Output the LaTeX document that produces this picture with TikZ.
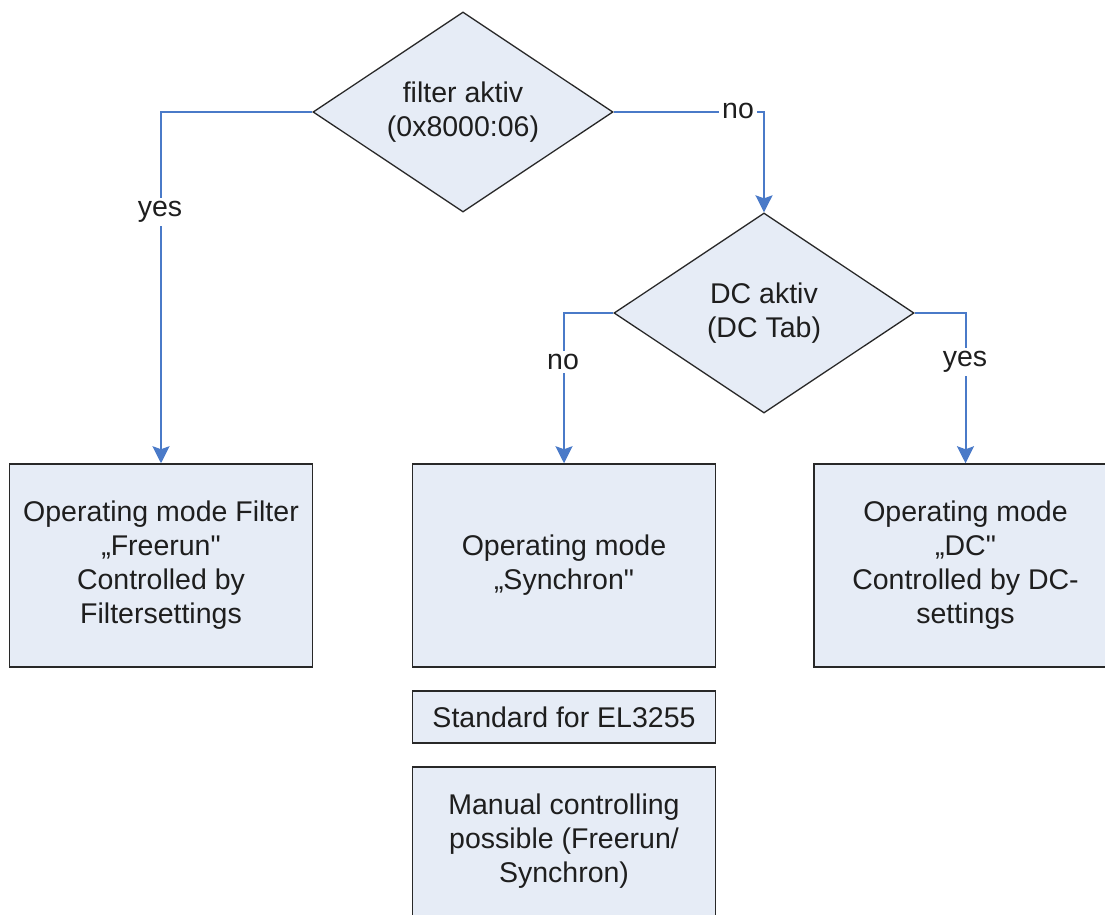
\documentclass[tikz,border=0pt]{standalone}
\usepackage{fontspec}
\setmainfont{Liberation Sans}
\usetikzlibrary{shapes.geometric,arrows.meta}
\definecolor{boxfill}{RGB}{230,236,246}
\definecolor{connblue}{RGB}{74,122,200}
\definecolor{edge}{RGB}{40,40,40}
\definecolor{txt}{RGB}{30,30,30}
\tikzset{
  every node/.style={font=\fontsize{28.5}{34}\selectfont, text=txt},
  decision/.style={diamond, draw=edge, line width=1.3pt, fill=boxfill, aspect=1.5,
    minimum width=300pt, minimum height=200pt, inner sep=0pt, align=center},
  modebox/.style={rectangle, draw=edge, line width=1.5pt, fill=boxfill,
    minimum width=303pt, minimum height=203pt, inner sep=0pt, align=center},
  notebox/.style={rectangle, draw=edge, line width=1.5pt, fill=boxfill,
    minimum width=303pt, inner sep=0pt, align=center},
  conn/.style={draw=connblue, line width=2pt, -{Stealth[length=17pt,width=17pt,inset=3pt]}},
  lbl/.style={fill=white, inner sep=3pt}
}
\begin{document}
\begin{tikzpicture}[x=1pt,y=-1pt]
\useasboundingbox (0,0) rectangle (1105,915);
\clip (0,0) rectangle (1105,915);
\node[decision] (d1) at (463,112) {filter aktiv\\(0x8000:06)};
\node[decision] (d2) at (764,313) {DC aktiv\\(DC Tab)};
\node[modebox] (b1) at (161,565.5) {Operating mode Filter\\„Freerun\textquotedbl\\Controlled by\\Filtersettings};
\node[modebox] (b2) at (564,565.5) {Operating mode\\„Synchron\textquotedbl};
\node[modebox] (b3) at (965.5,565.5) {Operating mode\\„DC\textquotedbl\\Controlled by DC-\\settings};
\node[notebox, minimum height=52pt] (s) at (564,717) {Standard for EL3255};
\node[notebox, minimum height=160pt] (m) at (564,847) {};
\node[align=center] (mt) at (564,841) {Manual controlling\\possible (Freerun/\\Synchron)};
\draw[conn] (d1.west) -| (b1.north);
\draw[conn] (d1.east) -| (d2.north);
\draw[conn] (d2.west) -| (b2.north);
\draw[conn] (d2.east) -| (b3.north);
\node[lbl] (lyes1) at (160,212) {yes};
\node[lbl] (lno1) at (738,111) {no};
\node[lbl] (lno2) at (563,362) {no};
\node[lbl] (lyes2) at (965,362) {yes};
\end{tikzpicture}
\end{document}
